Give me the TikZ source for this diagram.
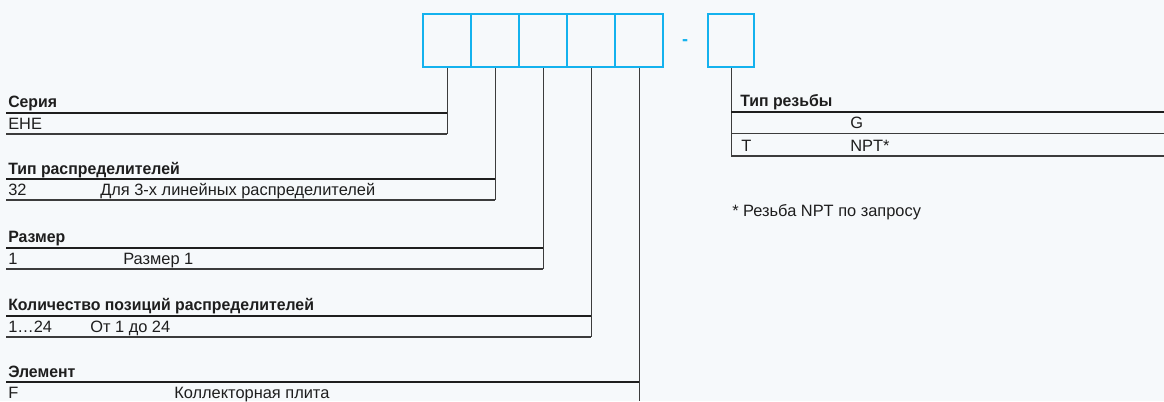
\documentclass[tikz,border=0pt]{standalone}
\usepackage{fontspec}
\setmainfont[BoldFeatures={FakeStretch=0.965}]{Liberation Sans}
\definecolor{bg}{RGB}{246,249,251}
\definecolor{cyanbox}{RGB}{20,178,238}
\definecolor{ink}{RGB}{30,30,30}
\definecolor{conn}{RGB}{60,60,60}
\begin{document}
\begin{tikzpicture}[x=0.75pt,y=-0.75pt,
  codebox/.style={draw=cyanbox,line width=1.4pt,minimum height=53*0.75pt,inner sep=0pt,fill=none},
  hdr/.style={anchor=base west,inner sep=0pt,font=\fontsize{12.3pt}{14pt}\selectfont\bfseries,text=ink},
  cell/.style={anchor=base west,inner sep=0pt,font=\fontsize{12.3pt}{14pt}\selectfont,text=ink},
  thickrule/.style={draw=ink,line width=1.5pt},
  thinrule/.style={draw=conn,line width=0.8pt},
  connector/.style={draw=conn,line width=1pt}]
\fill[bg] (0,0) rectangle (1164,401);
\useasboundingbox (0,0) rectangle (1164,401);
% code boxes
\node[codebox,minimum width=48*0.75pt] (b1) at (447.3,40.5) {};
\node[codebox,minimum width=48*0.75pt] (b2) at (495.3,40.5) {};
\node[codebox,minimum width=48*0.75pt] (b3) at (543.3,40.5) {};
\node[codebox,minimum width=48*0.75pt] (b4) at (591.3,40.5) {};
\node[codebox,minimum width=48*0.75pt] (b5) at (639.3,40.5) {};
\node[inner sep=0pt,text=cyanbox,font=\fontsize{14pt}{16pt}\selectfont\bfseries] (dash) at (685,42.5) {-};
\node[codebox,minimum width=46*0.75pt] (b6) at (731.3,40.5) {};
% coordinates of table corners
\coordinate (e1) at (447.3,134);
\coordinate (e2) at (495.3,200);
\coordinate (e3) at (543.3,269);
\coordinate (e4) at (591.3,337);
\coordinate (e5) at (639.3,401);
\coordinate (e6) at (731.3,156);
% connectors
\draw[connector] (b1.south) -- (e1);
\draw[connector] (b2.south) -- (e2);
\draw[connector] (b3.south) -- (e3);
\draw[connector] (b4.south) -- (e4);
\draw[connector] (b5.south) -- (e5);
\draw[connector] (b6.south) -- (e6);
% table 1
\node[hdr] (h1) at (8,107) {Серия};
\draw[thickrule] (6,112.5) -- (447.3,112.5);
\node[cell] (r1a) at (8,129.5) {EHE};
\draw[thinrule] (6,134) -- (e1);
% table 2
\node[hdr] (h2) at (8,174) {Тип распределителей};
\draw[thickrule] (6,179) -- (495.3,179);
\node[cell] (r2a) at (8,195.5) {32};
\node[cell] (r2b) at (100,195.5) {Для 3-х линейных распределителей};
\draw[thinrule] (6,200) -- (e2);
% table 3
\node[hdr] (h3) at (8,242.5) {Размер};
\draw[thickrule] (6,247.5) -- (543.3,247.5);
\node[cell] (r3a) at (8,264.5) {1};
\node[cell] (r3b) at (123,264.5) {Размер 1};
\draw[thinrule] (6,269) -- (e3);
% table 4
\node[hdr] (h4) at (8,310.5) {Количество позиций распределителей};
\draw[thickrule] (6,315.5) -- (591.3,315.5);
\node[cell] (r4a) at (8,332.5) {1…24};
\node[cell] (r4b) at (90,332.5) {От 1 до 24};
\draw[thinrule] (6,337) -- (e4);
% table 5
\node[hdr] (h5) at (8,377) {Элемент};
\draw[thickrule] (6,382) -- (639.3,382);
\node[cell] (r5a) at (8,398.5) {F};
\node[cell] (r5b) at (174,398.5) {Коллекторная плита};
% right table
\node[hdr] (h6) at (740,106.5) {Тип резьбы};
\draw[thickrule] (731.3,111.5) -- (1164,111.5);
\node[cell] (r6g) at (850,128.5) {G};
\draw[thinrule] (731.3,133.5) -- (1164,133.5);
\node[cell] (r6t) at (741,151) {T};
\node[cell] (r6n) at (850,151) {NPT*};
\draw[thinrule] (e6) -- (1164,156);
\node[cell] (note) at (732,216) {* Резьба NPT по запросу};
\end{tikzpicture}
\end{document}
